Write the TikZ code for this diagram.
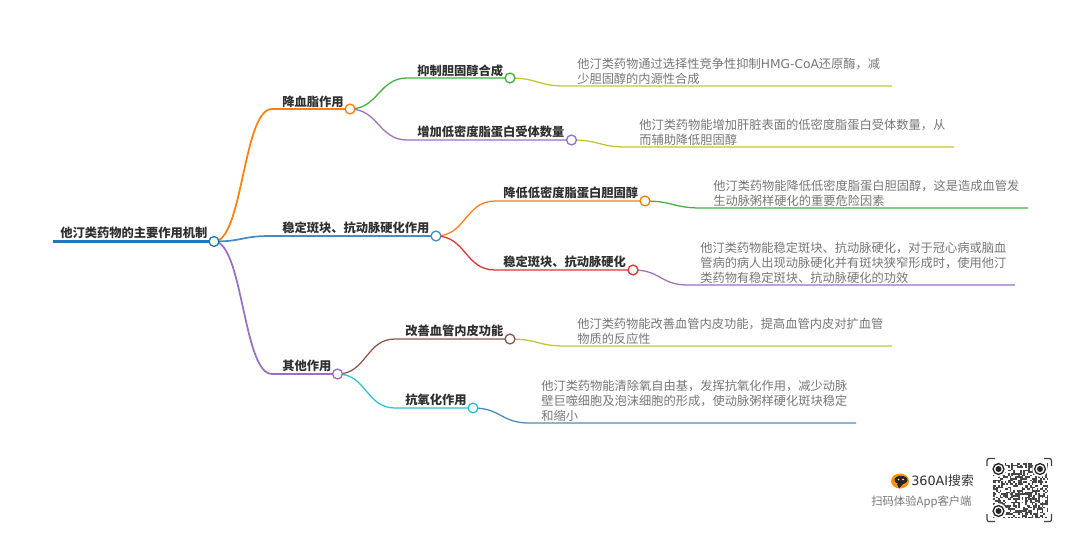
\documentclass[tikz,border=0pt]{standalone}
\usepackage{fontspec}
\setmainfont{Noto Sans CJK SC}
\newfontfamily\latinpart{DejaVu Sans}
\usepackage{tikz}
\usetikzlibrary{calc,backgrounds}
\definecolor{rootblue}   {RGB}{ 31, 119, 180}
\definecolor{mapblue}    {RGB}{ 70, 140, 195}
\definecolor{maporange}  {RGB}{255, 127,  14}
\definecolor{mapgreen}   {RGB}{ 64, 176,  64}
\definecolor{mapred}     {RGB}{221,  50,  52}
\definecolor{mappurple}  {RGB}{155, 110, 195}
\definecolor{mapbrown}   {RGB}{140,  86,  75}
\definecolor{mapolive}   {RGB}{195, 196,  50}
\definecolor{mapcyan}    {RGB}{ 40, 195, 215}
\definecolor{darktext}   {RGB}{ 48,  48,  48}
\definecolor{softtext}   {RGB}{118, 118, 118}
\tikzset{
	dotmark/.style={circle,draw=#1,fill=white,line width=1pt,minimum size=7.4pt,inner sep=0pt},
	branch/.style={draw=#1,line width=1.3pt},
	twig/.style={draw=#1,line width=0.95pt},
	headline/.style={anchor=west,inner sep=0pt,text=darktext,font=\fontsize{9.2}{11}\selectfont\bfseries},
	detail/.style={anchor=west,inner sep=0pt,text=softtext,align=left,font=\fontsize{9.18}{11.2}\selectfont},
}
\begin{document}
\begin{tikzpicture}[x=0.75pt,y=-0.75pt]
	\useasboundingbox (0,0) rectangle (1080,551);

	\coordinate (rootstart) at (53,241.5);
	\coordinate (lipidin) at (272,109);
	\coordinate (plaquein) at (270,236);
	\coordinate (otherin) at (272,374);
	\coordinate (synthin) at (407,78);
	\coordinate (receptin) at (407,140);
	\coordinate (ldlin) at (495,201);
	\coordinate (hardin) at (495,270);
	\coordinate (endoin) at (395,339);
	\coordinate (oxidin) at (395,408);
	\coordinate (synthmid) at (565,86);
	\coordinate (synthend) at (892,86);
	\coordinate (receptmid) at (627,147);
	\coordinate (receptend) at (954,147);
	\coordinate (ldlmid) at (701,208);
	\coordinate (ldlend) at (1028,208);
	\coordinate (hardmid) at (688,285);
	\coordinate (hardend) at (1015,285);
	\coordinate (endomid) at (565,346);
	\coordinate (endoend) at (892,346);
	\coordinate (oxidmid) at (529,423);
	\coordinate (oxidend) at (856,423);

	\node[dotmark=rootblue] (root) at (214,241.5) {};
	\node[dotmark=maporange] (lipid) at (350,109) {};
	\node[dotmark=mapblue] (plaque) at (436,236) {};
	\node[dotmark=mappurple] (other) at (337.5,374) {};
	\node[dotmark=mapgreen] (synth) at (510,78) {};
	\node[dotmark=mappurple] (recept) at (571.5,140) {};
	\node[dotmark=maporange] (ldl) at (645,201) {};
	\node[dotmark=mapred] (hard) at (633,270) {};
	\node[dotmark=mapbrown] (endo) at (510,339) {};
	\node[dotmark=mapcyan] (oxid) at (473,408) {};

	\begin{scope}[on background layer]
		\draw[rootblue,line width=2.2pt] (rootstart) -- (root.center);
		\draw[branch=maporange] (root.center) .. controls +(29,0) and +(-29,0) .. (lipidin) -- (lipid.center);
		\draw[branch=mapblue] (root.center) .. controls +(28,0) and +(-28,0) .. (plaquein) -- (plaque.center);
		\draw[branch=mappurple] (root.center) .. controls +(29,0) and +(-29,0) .. (otherin) -- (other.center);

		\draw[twig=mapgreen] (lipid.center) .. controls +(28,0) and +(-28,0) .. (synthin) -- (synth.center);
		\draw[twig=mappurple] (lipid.center) .. controls +(28,0) and +(-28,0) .. (receptin) -- (recept.center);
		\draw[twig=maporange] (plaque.center) .. controls +(30,0) and +(-30,0) .. (ldlin) -- (ldl.center);
		\draw[twig=mapred] (plaque.center) .. controls +(30,0) and +(-30,0) .. (hardin) -- (hard.center);
		\draw[twig=mapbrown] (other.center) .. controls +(29,0) and +(-29,0) .. (endoin) -- (endo.center);
		\draw[twig=mapcyan] (other.center) .. controls +(29,0) and +(-29,0) .. (oxidin) -- (oxid.center);

		\draw[twig=mapolive] (synth.center) .. controls +(28,0) and +(-28,0) .. (synthmid) -- (synthend);
		\draw[twig=mapolive] (recept.center) .. controls +(28,0) and +(-28,0) .. (receptmid) -- (receptend);
		\draw[twig=mapgreen] (ldl.center) .. controls +(28,0) and +(-28,0) .. (ldlmid) -- (ldlend);
		\draw[twig=mappurple] (hard.center) .. controls +(28,0) and +(-28,0) .. (hardmid) -- (hardend);
		\draw[twig=mapolive] (endo.center) .. controls +(28,0) and +(-28,0) .. (endomid) -- (endoend);
		\draw[twig=mapblue] (oxid.center) .. controls +(28,0) and +(-28,0) .. (oxidmid) -- (oxidend);
	\end{scope}

	\node[headline] (roottext) at (60,233) {他汀类药物的主要作用机制};
	\node[headline] (lipidtext) at (282,101.5) {降血脂作用};
	\node[headline] (plaquetext) at (282,228) {稳定斑块、抗动脉硬化作用};
	\node[headline] (othertext) at (282,366) {其他作用};
	\node[headline] (synthtext) at (417,71) {抑制胆固醇合成};
	\node[headline] (recepttext) at (417,132) {增加低密度脂蛋白受体数量};
	\node[headline] (ldltext) at (503,193) {降低低密度脂蛋白胆固醇};
	\node[headline] (hardtext) at (503,262) {稳定斑块、抗动脉硬化};
	\node[headline] (endotext) at (405,331) {改善血管内皮功能};
	\node[headline] (oxidtext) at (405,400) {抗氧化作用};

	\node[detail] (synthnote) at (577,71.5) {他汀类药物通过选择性竞争性抑制{\latinpart HMG-CoA}还原酶，减\\少胆固醇的内源性合成};
	\node[detail] (receptnote) at (639,132.5) {他汀类药物能增加肝脏表面的低密度脂蛋白受体数量，从\\而辅助降低胆固醇};
	\node[detail] (ldlnote) at (713,193.5) {他汀类药物能降低低密度脂蛋白胆固醇，这是造成血管发\\生动脉粥样硬化的重要危险因素};
	\node[detail] (hardnote) at (700,262.5) {他汀类药物能稳定斑块、抗动脉硬化，对于冠心病或脑血\\管病的病人出现动脉硬化并有斑块狭窄形成时，使用他汀\\类药物有稳定斑块、抗动脉硬化的功效};
	\node[detail] (endonote) at (577,331.5) {他汀类药物能改善血管内皮功能，提高血管内皮对扩血管\\物质的反应性};
	\node[detail] (oxidnote) at (541,400.5) {他汀类药物能清除氧自由基，发挥抗氧化作用，减少动脉\\壁巨噬细胞及泡沫细胞的形成，使动脉粥样硬化斑块稳定\\和缩小};

	\fill[maporange!85!yellow] (900,481) ellipse (9 and 7.5);
	\fill[black!85] (901,480) ellipse (6.5 and 4.2);
	\fill[black!85] (897,484) -- (903,484) -- (899,488.5) -- cycle;
	\fill[white] (898.5,479.5) circle (0.9) (903,479.5) circle (0.9);
	\node[anchor=west,inner sep=0pt,text=darktext,font=\fontsize{9.6}{11}\selectfont] (brandtext) at (911,481) {{\latinpart 360AI}搜索};
	\node[anchor=west,inner sep=0pt,text=softtext,font=\fontsize{8.5}{10}\selectfont] (scantext) at (871,502) {扫码体验App客户端};

	\draw[black!75,line width=0.9pt,rounded corners=1.5pt] (987,466) -- (987,458.5) -- (995,458.5);
	\draw[black!75,line width=0.9pt,rounded corners=1.5pt] (1044,458.5) -- (1051.5,458.5) -- (1051.5,466);
	\draw[black!75,line width=0.9pt,rounded corners=1.5pt] (987,514) -- (987,521.5) -- (995,521.5);
	\draw[black!75,line width=0.9pt,rounded corners=1.5pt] (1044,521.5) -- (1051.5,521.5) -- (1051.5,514);
	\pgfmathsetseed{360}
	\foreach \i in {0,...,32}
		\foreach \j in {0,...,32}{
			\pgfmathrandominteger{\qrbit}{0}{99}
			\ifnum\qrbit<50
				\fill[black!72] ({993+1.68*\i},{463+1.68*\j}) rectangle +(1.68,1.68);
			\fi
		}
	\foreach \qx/\qy in {998.5/469,1040/469,998.5/511}{
		\fill[white] (\qx,\qy) circle (7.8);
		\draw[black!85,line width=1pt] (\qx,\qy) circle (5.4);
		\fill[black!85] (\qx,\qy) circle (3);
	}
\end{tikzpicture}
\end{document}
